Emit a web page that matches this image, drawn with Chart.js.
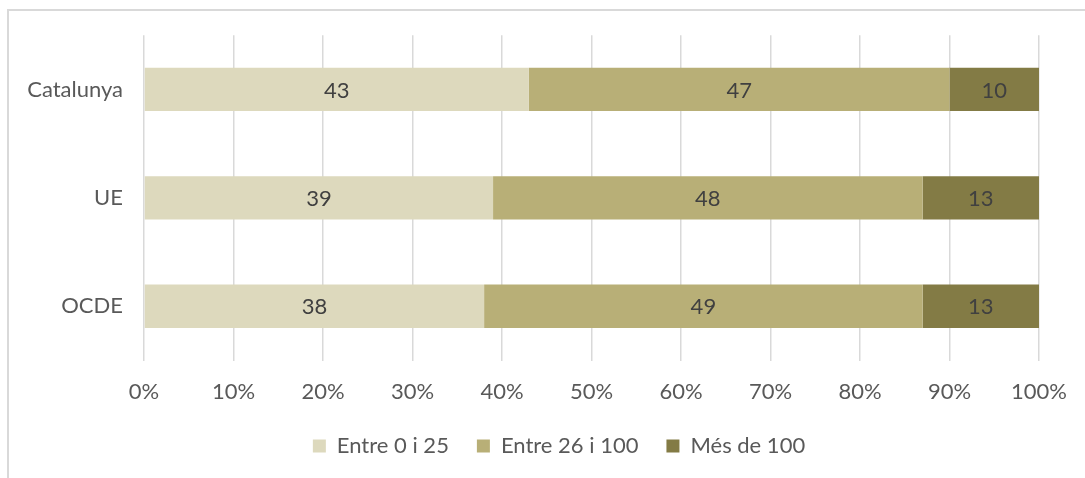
<!DOCTYPE html>
<html>
<head>
<meta charset="utf-8">
<script src="https://cdn.jsdelivr.net/npm/chart.js@4.4.1/dist/chart.umd.min.js"></script>
<style>
html, body { margin: 0; padding: 0; background: #fff; overflow: hidden; width: 1085px; height: 478px; }
#frame { position: absolute; left: 7px; top: 9px; width: 1200px; height: 600px; border-top: 2px solid #d9d9d9; border-left: 2px solid #d9d9d9; }
#myChart { position: absolute; left: 7px; top: 9px; }
</style>
</head>
<body>
<div id="frame"></div>
<canvas id="myChart" width="1098" height="480"></canvas>
<script>
// dades
const categories = ['Catalunya', 'UE', 'OCDE'];
const seriesNames = ['Entre 0 i 25', 'Entre 26 i 100', 'Més de 100'];
const entre0i25 = [43, 39, 38];
const entre26i100 = [47, 48, 49];
const mesDe100 = [10, 13, 13];
const xTickValues = [0, 10, 20, 30, 40, 50, 60, 70, 80, 90, 100];

const colors = ['#ddd9bd', '#b8af77', '#837b45'];
const fontFamily = 'Lato, "Open Sans", sans-serif';
const fontSize = 22;

// etiquetes dins les barres
const barLabels = {
    id: 'barLabels',
    afterDatasetsDraw(chart) {
        const ctx = chart.ctx;
        ctx.save();
        ctx.font = fontSize + 'px ' + fontFamily;
        ctx.fillStyle = '#404040';
        ctx.textAlign = 'center';
        ctx.textBaseline = 'middle';
        chart.data.datasets.forEach((ds, i) => {
            const meta = chart.getDatasetMeta(i);
            meta.data.forEach((bar, j) => {
                const x = (bar.x + bar.base) / 2;
                ctx.fillText(ds.data[j], x, bar.y + 1);
            });
        });
        ctx.restore();
    }
};

// la llegenda va centrada a tot el marc, no a l'area del grafic
const shiftLegend = {
    id: 'shiftLegend',
    afterLayout(chart) {
        chart.legend.left += 36;
        chart.legend.right += 36;
    }
};

const ctx = document.getElementById('myChart').getContext('2d');
const chart = new Chart(ctx, {
    type: 'bar',
    data: {
        labels: categories,
        datasets: [
            { label: seriesNames[0], data: entre0i25, backgroundColor: colors[0] },
            { label: seriesNames[1], data: entre26i100, backgroundColor: colors[1] },
            { label: seriesNames[2], data: mesDe100, backgroundColor: colors[2] }
        ]
    },
    options: {
        indexAxis: 'y',
        responsive: false,
        animation: false,
        devicePixelRatio: 1,
        categoryPercentage: 1,
        barPercentage: 0.4,
        layout: {
            padding: { top: 17, right: 66, bottom: 22, left: 0 }
        },
        scales: {
            x: {
                stacked: true,
                min: 0,
                max: 100,
                afterBuildTicks: (axis) => {
                    axis.ticks = xTickValues.map(v => ({ value: v }));
                },
                afterFit: (axis) => { axis.height = 46.5; },
                grid: {
                    color: '#d9d9d9',
                    lineWidth: 1.5,
                    drawTicks: false
                },
                border: { display: false },
                ticks: {
                    padding: 18,
                    color: '#595959',
                    font: { family: fontFamily, size: fontSize },
                    callback: (v) => v + '%'
                }
            },
            y: {
                stacked: true,
                afterFit: (axis) => { axis.width = 137; },
                grid: { display: false },
                border: { display: false },
                ticks: {
                    padding: 13,
                    color: '#595959',
                    font: { family: fontFamily, size: fontSize }
                }
            }
        },
        plugins: {
            legend: {
                position: 'bottom',
                labels: {
                    boxWidth: 13,
                    boxHeight: 13,
                    padding: 28,
                    color: '#595959',
                    font: { family: fontFamily, size: fontSize }
                }
            },
            tooltip: { enabled: false }
        }
    },
    plugins: [barLabels, shiftLegend]
});
</script>
</body>
</html>
